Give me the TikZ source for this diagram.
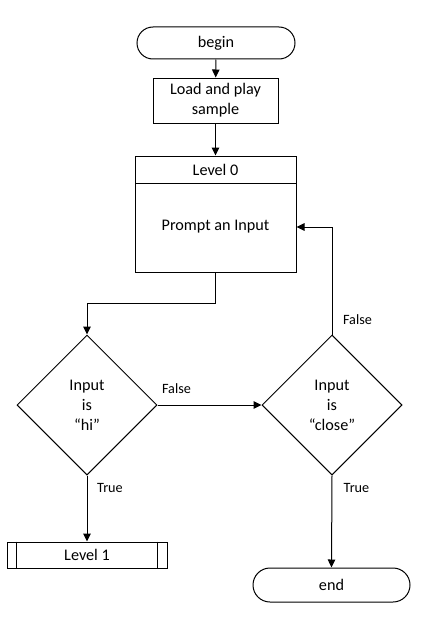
\documentclass[tikz,border=0pt]{standalone}
\usepackage{fontspec}
\setmainfont{Carlito}
\usetikzlibrary{arrows.meta,shapes.geometric,shapes.misc}

\tikzset{
    base/.style={draw, line width=1pt, inner sep=2pt, align=center,
        font=\fontsize{16.2}{20}\selectfont},
    terminal/.style={base, rounded rectangle},
    box/.style={base, rectangle},
    decision/.style={base, diamond, minimum width=140, minimum height=140, inner sep=0pt},
    lbl/.style={font=\fontsize{14.2}{16}\selectfont, inner sep=0pt},
    flow/.style={line width=1pt, -{Triangle[length=8pt,width=7.5pt]}}
}

\begin{document}
\begin{tikzpicture}[x=1pt, y=-1pt]
    \useasboundingbox (0,0) rectangle (439,634);

    % Start and sample
    \node[terminal, minimum width=162, minimum height=32] (begin) at (216,43) {begin};
    \node[box, minimum width=125, minimum height=45] (load) at (215.5,100.5) {Load and play\\sample};

    % Level 0 block
    \node[box, minimum width=161, minimum height=116] (level0) at (215.5,214) {};
    \node[box, minimum width=161, minimum height=27, anchor=north] (head) at (level0.north) {Level 0};
    \node[base, draw=none] (prompt) at (215.5,227) {Prompt an Input};

    % Decisions
    \node[decision] (dhi) at (87,405) {Input\\is\\“hi”};
    \node[decision] (dclose) at (332,405) {Input\\is\\“close”};

    % Outcomes
    \node[box, minimum width=160, minimum height=26] (level1) at (87,555) {Level 1};
    \draw[line width=1pt] ([xshift=10pt]level1.north west) -- ([xshift=10pt]level1.south west);
    \draw[line width=1pt] ([xshift=-10pt]level1.north east) -- ([xshift=-10pt]level1.south east);
    \node[terminal, minimum width=161, minimum height=34] (end) at (331.5,585) {end};

    % Connectors
    \draw[flow] (begin) -- (load);
    \draw[flow] (load) -- (level0);
    \draw[flow] (level0.south) -- ++(0,31) -| (dhi.north);
    \draw[flow] (dhi.east) -- (dclose.west);
    \draw[flow] (dclose.north) |- (prompt -| level0.east);
    \draw[flow] (dhi.south) -- (level1.north);
    \draw[flow] (dclose.south) -- (end.north);

    % Branch labels
    \node[lbl] (falsehi) at (176.5,389) {False};
    \node[lbl] (falseclose) at (357.5,320) {False};
    \node[lbl] (truehi) at (110,488) {True};
    \node[lbl] (trueclose) at (356.5,488) {True};
\end{tikzpicture}
\end{document}
